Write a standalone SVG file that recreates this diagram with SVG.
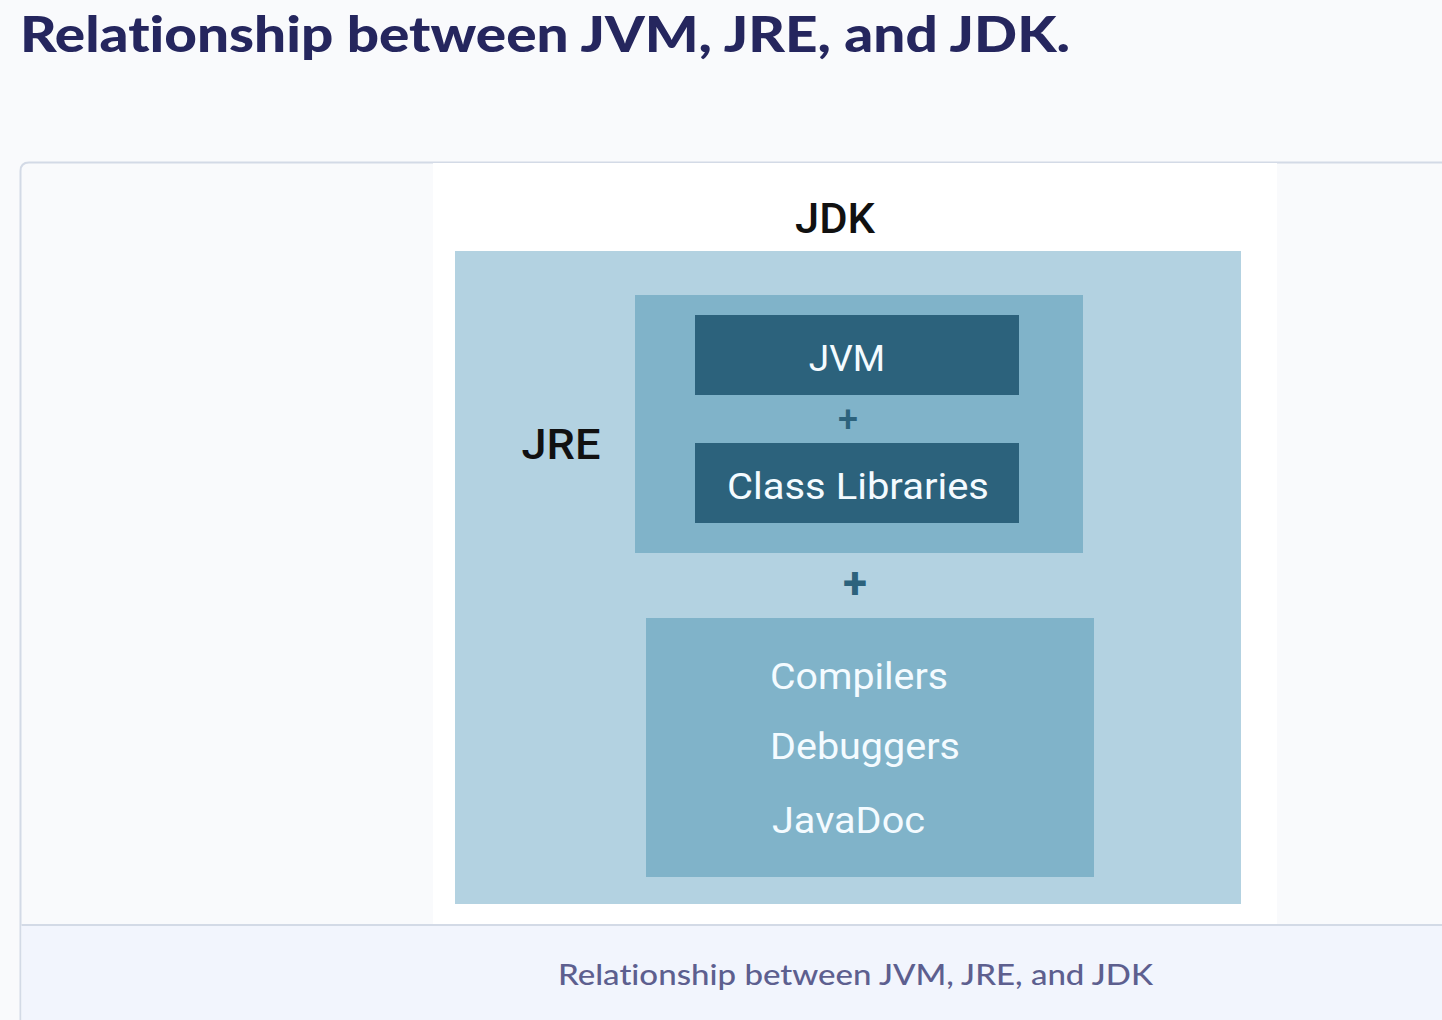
<svg xmlns="http://www.w3.org/2000/svg" width="1442" height="1020" viewBox="0 0 1442 1020">
<style>
.title{font-family:Lato,"Noto Sans",sans-serif;font-weight:900;fill:#25265e;font-variant-ligatures:none}
.cap{font-family:Lato,"Noto Sans",sans-serif;font-weight:500;fill:#5d5f8f;font-variant-ligatures:none}
.lbl{font-family:Roboto,"Liberation Sans",sans-serif;font-weight:500;fill:#111}
.w{font-family:Roboto,"Liberation Sans",sans-serif;font-weight:400;fill:#f4fbff}
.plus{font-family:Roboto,"Liberation Sans",sans-serif;fill:#2c627c}
</style>
<rect width="1442" height="1020" fill="#f9fafc"/>
<text class="title" x="20" y="52" font-size="50" textLength="1050" lengthAdjust="spacingAndGlyphs">Relationship between JVM, JRE, and JDK.</text>
<g id="card">
<path d="M1450 162.5 H29 Q20.5 162.5 20.5 171 V1030" fill="#f9fafc" stroke="#d3dae6" stroke-width="2"/>
<rect x="21.5" y="925" width="1430" height="100" fill="#f2f5fd"/>
<line x1="21.5" y1="925" x2="1442" y2="925" stroke="#d3dae6" stroke-width="2"/>
<text class="cap" x="558" y="985" font-size="29" textLength="595" lengthAdjust="spacingAndGlyphs">Relationship between JVM, JRE, and JDK</text>
</g>
<rect x="433" y="163" width="844" height="761" fill="#ffffff"/>
<g id="jdk">
<rect x="455" y="251" width="786" height="653" fill="#b3d2e1"/>
<text class="lbl" x="835" y="233" font-size="42" text-anchor="middle" textLength="80" lengthAdjust="spacingAndGlyphs">JDK</text>
</g>
<g id="jre">
<rect x="635" y="295" width="448" height="258" fill="#80b3c9"/>
<text class="lbl" x="561" y="459" font-size="43" text-anchor="middle" textLength="79" lengthAdjust="spacingAndGlyphs">JRE</text>
</g>
<g id="jvm">
<rect x="695" y="315" width="324" height="80" fill="#2c627c"/>
<text class="w" x="847" y="371" font-size="37" text-anchor="middle">JVM</text>
</g>
<g id="classlib">
<rect x="695" y="443" width="324" height="80" fill="#2c627c"/>
<text class="w" x="858" y="499" font-size="37" text-anchor="middle" textLength="262" lengthAdjust="spacingAndGlyphs">Class Libraries</text>
</g>
<g id="connectors">
<text class="plus" x="848" y="432" font-size="36" font-weight="500" text-anchor="middle">+</text>
<text class="plus" x="855" y="598" font-size="44" font-weight="700" text-anchor="middle">+</text>
</g>
<g id="tools">
<rect x="646" y="618" width="448" height="259" fill="#80b3c9"/>
<text class="w" x="770" y="689" font-size="37" textLength="178" lengthAdjust="spacingAndGlyphs">Compilers</text>
<text class="w" x="770" y="759" font-size="37" textLength="190" lengthAdjust="spacingAndGlyphs">Debuggers</text>
<text class="w" x="772" y="833" font-size="37" textLength="153" lengthAdjust="spacingAndGlyphs">JavaDoc</text>
</g>
</svg>
